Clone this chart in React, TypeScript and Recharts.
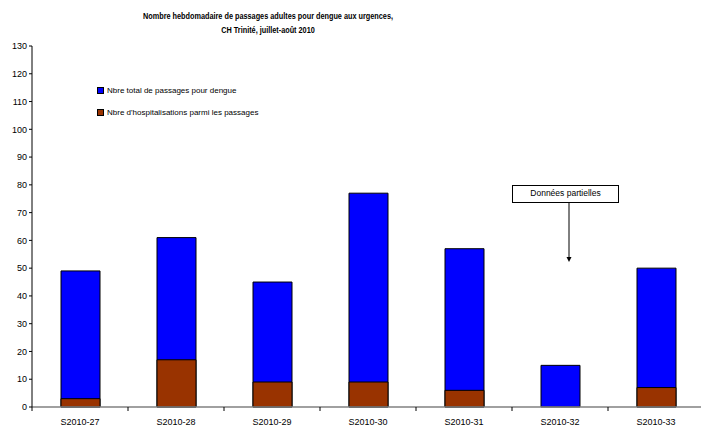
import React from "react";
import { BarChart, Bar, XAxis, YAxis } from "recharts";

const weeks = ["S2010-27", "S2010-28", "S2010-29", "S2010-30", "S2010-31", "S2010-32", "S2010-33"];
const totalPassages = [49, 61, 45, 77, 57, 15, 50];
const hospitalisations = [3, 17, 9, 9, 6, 0, 7];
const yTicks = [0, 10, 20, 30, 40, 50, 60, 70, 80, 90, 100, 110, 120, 130];

const data = weeks.map((w, i) => ({
  week: w,
  total: totalPassages[i],
  hosp: hospitalisations[i],
}));

const FONT = '"Liberation Sans", Arial, sans-serif';
const BAND = 96;

// x tick: label centered, small tick mark at the boundaries between categories
const WeekTick = (props: any) => {
  const { x, y, payload, index } = props;
  return (
    <g>
      <line x1={x + BAND / 2} y1={y - 8} x2={x + BAND / 2} y2={y - 4} stroke="#000" />
      {index === 0 && <line x1={x - BAND / 2} y1={y - 8} x2={x - BAND / 2} y2={y - 4} stroke="#000" />}
      <text x={x} y={y + 10} textAnchor="middle" fontSize={9} fontFamily={FONT} fill="#000">
        {payload.value}
      </text>
    </g>
  );
};

const swatch = (color: string) => ({
  display: "inline-block",
  width: 5,
  height: 5,
  background: color,
  border: "1px solid #000",
  marginRight: 3,
});

export default function App() {
  return (
    <div style={{ position: "absolute", left: 0, top: 0, width: 701, height: 426, background: "#fff" }}>
      <div
        style={{
          position: "absolute",
          left: 68,
          width: 400,
          top: 9,
          textAlign: "center",
          fontFamily: FONT,
          fontWeight: "bold",
          fontSize: 9,
          lineHeight: "14px",
          transform: "scaleX(0.81)",
        }}
      >
        Nombre hebdomadaire de passages adultes pour dengue aux urgences,
        <br />
        CH Trinité, juillet-août 2010
      </div>
      <BarChart
        width={701}
        height={426}
        data={data}
        margin={{ top: 46, right: -3, bottom: 0, left: 0 }}
      >
        <XAxis
          xAxisId="main"
          dataKey="week"
          height={19}
          tick={<WeekTick />}
          tickLine={false}
          axisLine={{ stroke: "#808080", strokeWidth: 1.5 }}
          interval={0}
        />
        <XAxis xAxisId="overlay" dataKey="week" hide />
        <YAxis
          domain={[0, 130]}
          ticks={yTicks}
          width={32}
          interval={0}
          tickSize={3}
          tick={{ fontSize: 9, fontFamily: FONT, fill: "#000" }}
          axisLine={{ stroke: "#000" }}
          tickLine={{ stroke: "#000" }}
        />
        <Bar xAxisId="main" dataKey="total" fill="#0000ff" stroke="#000" strokeWidth={1} barSize={39} isAnimationActive={false} />
        <Bar xAxisId="overlay" dataKey="hosp" fill="#993300" stroke="#000" strokeWidth={1} barSize={39} isAnimationActive={false} />
      </BarChart>
      <div style={{ position: "absolute", left: 97, top: 85, fontFamily: FONT, fontSize: 8, color: "#000" }}>
        <div style={{ display: "flex", alignItems: "center", height: 10, marginBottom: 12, whiteSpace: "nowrap" }}>
          <span style={swatch("#0000ff")} />
          Nbre total de passages pour dengue
        </div>
        <div style={{ display: "flex", alignItems: "center", height: 10, whiteSpace: "nowrap" }}>
          <span style={swatch("#993300")} />
          Nbre d'hospitalisations parmi les passages
        </div>
      </div>
      <div
        style={{
          position: "absolute",
          left: 512,
          top: 185,
          width: 105,
          height: 16,
          border: "1px solid #000",
          background: "#fff",
          fontFamily: FONT,
          fontSize: 8.5,
          textAlign: "center",
          lineHeight: "15px",
        }}
      >
        Données partielles
      </div>
      <svg style={{ position: "absolute", left: 0, top: 0 }} width={701} height={426}>
        <line x1={569} y1={203} x2={569} y2={258} stroke="#000" strokeWidth={1} />
        <path d="M566.5,257 L571.5,257 L569,262 Z" fill="#000" />
      </svg>
    </div>
  );
}
